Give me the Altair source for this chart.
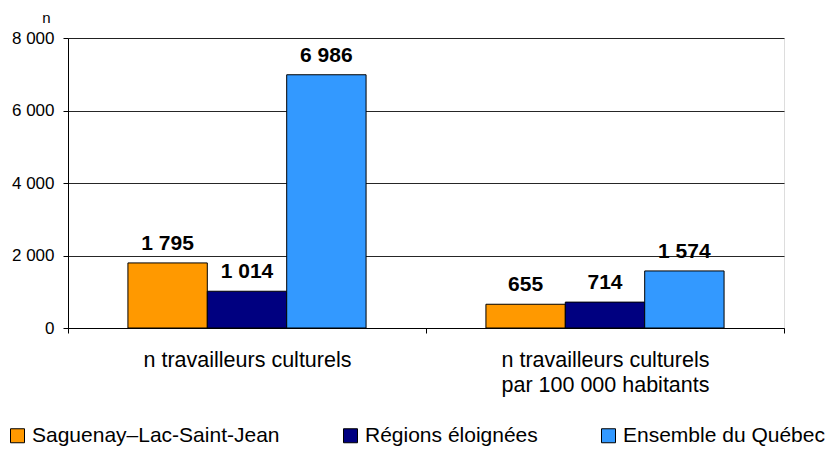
import altair as alt
import pandas as pd

categories = ["n travailleurs culturels", "n travailleurs culturels\npar 100 000 habitants"]
series = ["Saguenay–Lac-Saint-Jean", "Régions éloignées", "Ensemble du Québec"]
values_saguenay = [1795, 655]
values_regions = [1014, 714]
values_quebec = [6986, 1574]
colors = ["#FF9900", "#000080", "#3399FF"]
y_ticks = [0, 2000, 4000, 6000, 8000]

rows = []
for s, vals in zip(series, [values_saguenay, values_regions, values_quebec]):
    for c, v in zip(categories, vals):
        rows.append({"cat": c, "serie": s, "v": v})
df = pd.DataFrame(rows)

FONT = "Liberation Sans"

x_enc = alt.X("cat:N", sort=categories,
              scale=alt.Scale(paddingInner=0, paddingOuter=0),
              axis=alt.Axis(title=None, labelAngle=0, labelFontSize=21.5,
                            labelExpr="split(datum.label, '\\n')",
                            labelLineHeight=25, labelBaseline="top",
                            labelPadding=16, labelLimit=0, tickBand="extent", tickSize=5,
                            tickColor="black", domainColor="black",
                            labelColor="black", grid=False, labelFont=FONT))
xo_enc = alt.XOffset("serie:N", sort=series,
                     scale=alt.Scale(paddingInner=0, paddingOuter=0.755))
y_enc = alt.Y("v:Q", scale=alt.Scale(domain=[0, 8000], nice=False),
              axis=alt.Axis(values=y_ticks, title="n", titleAngle=0,
                            titleX=-22, titleY=-16, titleAlign="center",
                            titleBaseline="alphabetic", titleFontSize=15,
                            titleFontWeight="normal", titleFont=FONT,
                            titleColor="black",
                            labelExpr="replace(format(datum.value, ','), ',', ' ')",
                            labelFontSize=17, labelFont=FONT, labelColor="black",
                            labelPadding=9, tickSize=5, tickColor="black",
                            domainColor="black", gridColor="#000000",
                            gridOpacity=0.85))

bars = alt.Chart(df).mark_bar(stroke="black", strokeWidth=1).encode(
    x=x_enc, xOffset=xo_enc, y=y_enc,
    color=alt.Color("serie:N", sort=series,
                    scale=alt.Scale(domain=series, range=colors),
                    legend=alt.Legend(title=None, orient="none", direction="horizontal",
                                      legendX=-61, legendY=387, padding=0,
                                      symbolType="square", symbolSize=196,
                                      symbolStrokeColor="black", symbolStrokeWidth=1,
                                      symbolOpacity=1, labelLimit=0,
                                      labelFontSize=21, labelFont=FONT,
                                      labelColor="black", labelOffset=4,
                                      columnPadding=60)),
)

labels = alt.Chart(df).mark_text(fontSize=21, fontWeight="bold", font=FONT,
                                 baseline="alphabetic", dy=-13, color="black").encode(
    x=alt.X("cat:N", sort=categories),
    xOffset=alt.XOffset("serie:N", sort=series),
    y=alt.Y("v:Q"),
    text=alt.Text("lbl:N"),
).transform_calculate(lbl="replace(format(datum.v, ','), ',', ' ')")

chart = alt.layer(bars, labels).properties(
    width=716, height=290,
    autosize=alt.AutoSizeParams(type="none"),
    padding={"left": 60, "top": 30, "right": 46, "bottom": 120},
).configure_view(stroke="#888888", strokeWidth=1).configure(background="white")

chart.save("out.html", embed_options={"renderer": "svg", "actions": False})
